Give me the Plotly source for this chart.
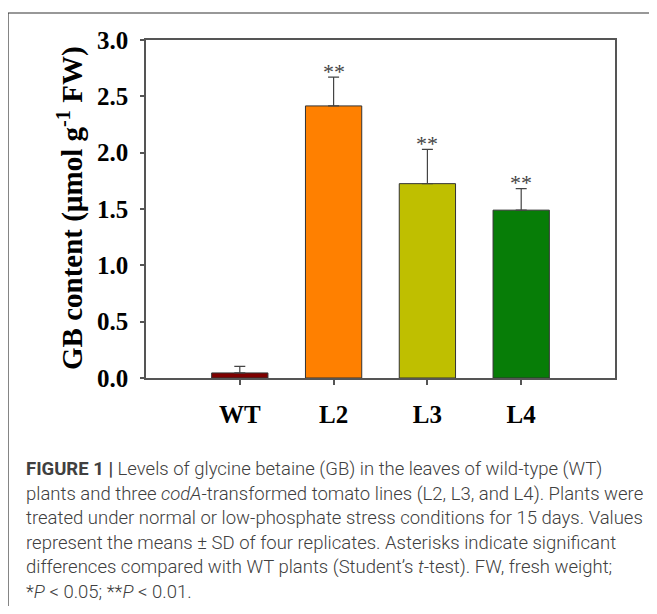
import plotly.graph_objects as go

# ---- data ----
categories = ["WT", "L2", "L3", "L4"]
gb_content = [0.045, 2.415, 1.725, 1.49]
gb_sd = [0.058, 0.255, 0.305, 0.19]
significance = ["", "**", "**", "**"]
bar_colors = ["#7f0000", "#ff8000", "#bfbf00", "#077d07"]
y_ticks = [0.0, 0.5, 1.0, 1.5, 2.0, 2.5, 3.0]

caption_lines = [
    "<b>FIGURE 1 |</b> Levels of glycine betaine (GB) in the leaves of wild-type (WT)",
    "plants and three <i>codA</i>-transformed tomato lines (L2, L3, and L4). Plants were",
    "treated under normal or low-phosphate stress conditions for 15 days. Values",
    "represent the means ± SD of four replicates. Asterisks indicate significant",
    "differences compared with WT plants (Student’s <i>t</i>-test). FW, fresh weight;",
    "*<i>P</i> &lt; 0.05; **<i>P</i> &lt; 0.01.",
]

# ---- layout geometry (page pixels; page body has an 8px margin) ----
OFF = 8
W, H = 657 - OFF, 614 - 2 * OFF   # keep the page from scrolling
PL, PR, PT, PB = 146 - OFF, 615 - OFF, 40 - OFF, 378 - OFF  # plot area


def px_x(x):
    return (x - OFF - PL) / (PR - PL)


def px_y(y):
    return (PB - (y - OFF)) / (PB - PT)


fig = go.Figure()
fig.add_trace(go.Bar(
    x=categories,
    y=gb_content,
    width=0.6,
    marker=dict(color=bar_colors, line=dict(color="#333333", width=1)),
    error_y=dict(type="data", symmetric=False, array=gb_sd,
                 arrayminus=[0] * len(gb_sd),
                 color="#444444", thickness=1.2, width=5.5),
    showlegend=False,
))

serif = "Liberation Serif, Times New Roman, serif"

annotations = []
for c, v, e, s in zip(categories, gb_content, gb_sd, significance):
    if s:
        annotations.append(dict(
            x=c, y=v + e, xref="x", yref="y", text=s, showarrow=False,
            yanchor="middle", yshift=6,
            font=dict(family=serif, size=22, color="#444444")))

# y-axis title
annotations.append(dict(
    x=px_x(70), y=px_y(208), xref="paper", yref="paper",
    text="<b>GB content (µmol g<sup>-1</sup> FW)</b>", textangle=-90,
    showarrow=False, xanchor="center", yanchor="middle",
    font=dict(family=serif, size=29, color="#000000")))

# caption
line_y = [469, 494, 518, 543, 567, 592]
for t, yy in zip(caption_lines, line_y):
    annotations.append(dict(
        x=px_x(24), y=px_y(yy), xref="paper", yref="paper", text=t,
        showarrow=False, xanchor="left", yanchor="middle", align="left",
        font=dict(family="Roboto, Liberation Sans, sans-serif", size=18.5,
                  weight=300, color="#404040")))

shapes = [
    # outer frame (top and left)
    dict(type="line", xref="paper", yref="paper",
         x0=px_x(8), x1=px_x(657), y0=px_y(13), y1=px_y(13),
         line=dict(color="#333333", width=1.2)),
    dict(type="line", xref="paper", yref="paper",
         x0=px_x(8), x1=px_x(8), y0=px_y(13), y1=px_y(614),
         line=dict(color="#333333", width=1.2)),
]

fig.update_layout(
    width=W, height=H,
    margin=dict(l=PL, r=W - PR, t=PT, b=H - PB, autoexpand=False),
    paper_bgcolor="white", plot_bgcolor="white",
    annotations=annotations, shapes=shapes,
    bargap=0.4,
)
fig.update_xaxes(
    range=[-1, 4], showline=True, linecolor="#555555", linewidth=1.5,
    mirror=True, ticks="outside", ticklen=5, tickcolor="#555555",
    tickwidth=1.5, showgrid=False, zeroline=False,
    tickfont=dict(family=serif, size=25, color="#000000", weight="bold"),
    ticklabelstandoff=8,
)
fig.update_yaxes(
    range=[0, 3], tickvals=y_ticks,
    ticktext=[f"{v:.1f}" for v in y_ticks],
    showline=True, linecolor="#555555", linewidth=1.5, mirror=True,
    ticks="outside", ticklen=4, tickcolor="#555555", tickwidth=1.5,
    showgrid=False, zeroline=False,
    tickfont=dict(family=serif, size=25, color="#000000", weight="bold"),
    ticklabelstandoff=7,
)

fig.write_html("out.html")
